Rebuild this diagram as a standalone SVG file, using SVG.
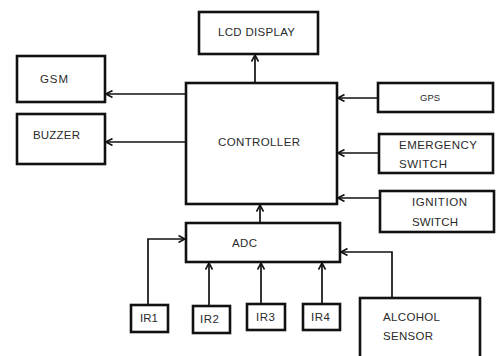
<svg xmlns="http://www.w3.org/2000/svg" width="496" height="356" viewBox="0 0 496 356">
<defs>
<marker id="arr" viewBox="0 0 8 8" refX="7.5" refY="4" markerWidth="8" markerHeight="8" markerUnits="userSpaceOnUse" orient="auto">
<path d="M1,0.5 L7.5,4 L1,7.5" fill="none" stroke="#111" stroke-width="1.6"/>
</marker>
<style>
.box{fill:#fff;stroke:#111;stroke-width:2.6}
.t{font-family:"Liberation Sans",Arial,sans-serif;font-size:11.5px;fill:#2a2a2a}
.c{fill:none;stroke:#111;stroke-width:1.7;marker-end:url(#arr)}
</style>
</defs>
<rect width="496" height="356" fill="#fff"/>
<g id="connectors">
<path class="c" d="M255,83 V55"/>
<path class="c" d="M186,94 H106"/>
<path class="c" d="M186,142 H106"/>
<path class="c" d="M378,98 H338"/>
<path class="c" d="M379,153 H338"/>
<path class="c" d="M380,198 H338"/>
<path class="c" d="M260,223 V205"/>
<path class="c" d="M148,305 V239 H185"/>
<path class="c" d="M209,306 V263"/>
<path class="c" d="M261,304 V263"/>
<path class="c" d="M322,304 V263"/>
<path class="c" d="M392,298 V252 H341"/>
</g>
<g id="lcd"><rect class="box" x="199" y="12" width="119" height="42"/><text class="t" x="218" y="36" textLength="77">LCD DISPLAY</text></g>
<g id="gsm"><rect class="box" x="17" y="56" width="88" height="46"/><text class="t" x="40" y="83" textLength="28">GSM</text></g>
<g id="buzzer"><rect class="box" x="17" y="114" width="88" height="50"/><text class="t" x="33" y="139" textLength="47">BUZZER</text></g>
<g id="controller"><rect class="box" x="186" y="83" width="151" height="121"/><text class="t" x="218" y="146" textLength="82">CONTROLLER</text></g>
<g id="gps"><rect class="box" x="378" y="83" width="115" height="29"/><text class="t" x="420" y="101" style="font-size:9.5px">GPS</text></g>
<g id="emergency"><rect class="box" x="379" y="134" width="114" height="39"/><text class="t" x="399" y="149" textLength="78">EMERGENCY</text><text class="t" x="399" y="168" textLength="48">SWITCH</text></g>
<g id="ignition"><rect class="box" x="380" y="191" width="114" height="41"/><text class="t" x="412" y="206" textLength="55">IGNITION</text><text class="t" x="412" y="226" textLength="46">SWITCH</text></g>
<g id="adc"><rect class="box" x="186" y="223" width="154" height="39"/><text class="t" x="232" y="247" textLength="25">ADC</text></g>
<g id="ir1"><rect class="box" x="131" y="305" width="37" height="27"/><text class="t" x="140" y="322" textLength="18">IR1</text></g>
<g id="ir2"><rect class="box" x="193" y="306" width="37" height="27"/><text class="t" x="200" y="323" textLength="19">IR2</text></g>
<g id="ir3"><rect class="box" x="247" y="304" width="38" height="26"/><text class="t" x="256" y="321" textLength="19">IR3</text></g>
<g id="ir4"><rect class="box" x="303" y="304" width="37" height="26"/><text class="t" x="311" y="321" textLength="19">IR4</text></g>
<g id="alcohol"><rect class="box" x="360" y="298" width="120" height="60"/><text class="t" x="383" y="321" textLength="57">ALCOHOL</text><text class="t" x="383" y="340" textLength="50">SENSOR</text></g>
</svg>
